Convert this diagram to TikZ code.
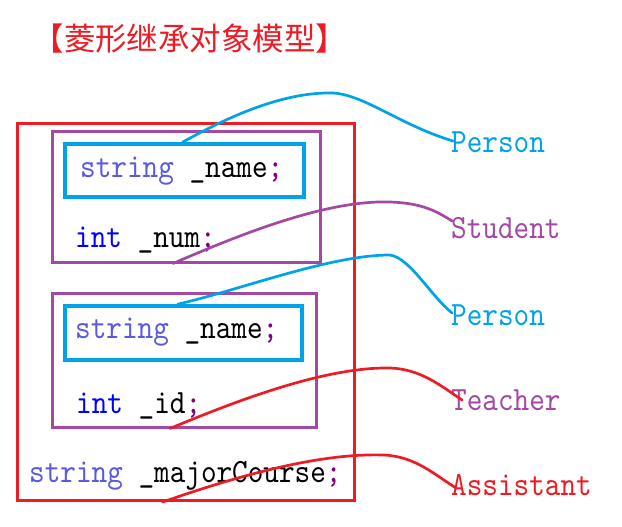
\documentclass[tikz,border=0pt]{standalone}
\usepackage{fontspec}
\newfontfamily\cjk{Noto Sans CJK SC}
\newfontfamily\codefont{lmmono10-regular.otf}[FakeStretch=0.875]
\definecolor{pred}{RGB}{237,28,36}
\definecolor{ppurple}{RGB}{163,73,164}
\definecolor{pcyan}{RGB}{0,162,232}
\definecolor{kwblue}{RGB}{0,0,255}
\definecolor{strblue}{RGB}{90,90,225}
\definecolor{semicol}{RGB}{128,0,128}
\newcommand\kwint{\textcolor{kwblue}{int}}
\newcommand\kwstr{\textcolor{strblue}{string}}
\newcommand\mysemi{\textcolor{semicol}{;}}
\begin{document}
\begin{tikzpicture}[x=1pt,y=-1pt,
  code/.style={anchor=base west, inner sep=0pt, font=\codefont\fontsize{34}{36}\selectfont},
  lab/.style={anchor=base west, inner sep=0pt, font=\codefont\fontsize{34}{36}\selectfont},
  boxr/.style={draw=pred, line width=3pt, inner sep=0pt},
  boxp/.style={draw=ppurple, line width=3pt, inner sep=0pt},
  boxc/.style={draw=pcyan, line width=3.5pt, inner sep=0pt},
  link/.style={line width=2.7pt, line cap=round}]
\useasboundingbox (0,0) rectangle (622,527);
% title
\node[anchor=base, inner sep=0pt, text=pred, font=\cjk\fontsize{31.5}{33}\selectfont] (title) at (190,51) {【菱形继承对象模型】};
% boxes
\node[boxr, minimum width=336.5pt, minimum height=377pt] (outer) at (185.75,312) {};
\node[boxp, minimum width=268pt, minimum height=130pt] (p1) at (186,197) {};
\node[boxc, minimum width=239pt, minimum height=53pt] (b1) at (184.5,170.5) {};
\node[boxp, minimum width=264pt, minimum height=134pt] (p2) at (184,360) {};
\node[boxc, minimum width=237pt, minimum height=54pt] (b2) at (183.5,333) {};
% code text
\node[code] (s1) at (80,177) {\kwstr\ \_name\mysemi};
\node[code] (n1) at (75,247) {\kwint\ \_num\mysemi};
\node[code] (s2) at (75,338) {\kwstr\ \_name\mysemi};
\node[code] (i2) at (76,413) {\kwint\ \_id\mysemi};
\node[code] (mc) at (29,482) {\kwstr\ \_majorCourse\mysemi};
% labels
\node[lab, text=pcyan] (l1) at (451,153) {Person};
\node[lab, text=ppurple] (l2) at (451,238) {Student};
\node[lab, text=pcyan] (l3) at (451,325) {Person};
\node[lab, text=ppurple] (l4) at (451,410) {Teacher};
\node[lab, text=pred] (l5) at (451,495) {Assistant};
% connector ends
\coordinate (e1) at ([xshift=2pt,yshift=12pt]l1.base west);
\coordinate (e2) at ([xshift=1pt,yshift=17pt]l2.base west);
\coordinate (e3) at ([xshift=1pt,yshift=12pt]l3.base west);
\coordinate (e4) at ([xshift=11pt,yshift=10pt]l4.base west);
\coordinate (e5) at ([xshift=5pt,yshift=7pt]l5.base west);
% connectors
\draw[link, draw=pcyan] ([xshift=-2pt]b1.north) .. controls (240,110) and (290,92) .. (333,93)
  .. controls (365,95) and (400,125) .. (e1);
\draw[link, draw=ppurple] ([xshift=-13pt]p1.south) .. controls (250,230) and (330,200) .. (390,202)
  .. controls (420,203) and (435,210) .. (e2);
\draw[link, draw=pcyan] ([xshift=-6pt]b2.north) .. controls (240,290) and (330,255) .. (390,255)
  .. controls (410,258) and (430,295) .. (e3);
\draw[link, draw=pred] ([xshift=-14pt]p2.south) .. controls (250,395) and (330,367) .. (390,368)
  .. controls (420,369) and (440,385) .. (e4);
\draw[link, draw=pred] ([xshift=-23pt]outer.south) .. controls (240,475) and (320,453) .. (383,455)
  .. controls (415,456) and (435,475) .. (e5);
\end{tikzpicture}
\end{document}
